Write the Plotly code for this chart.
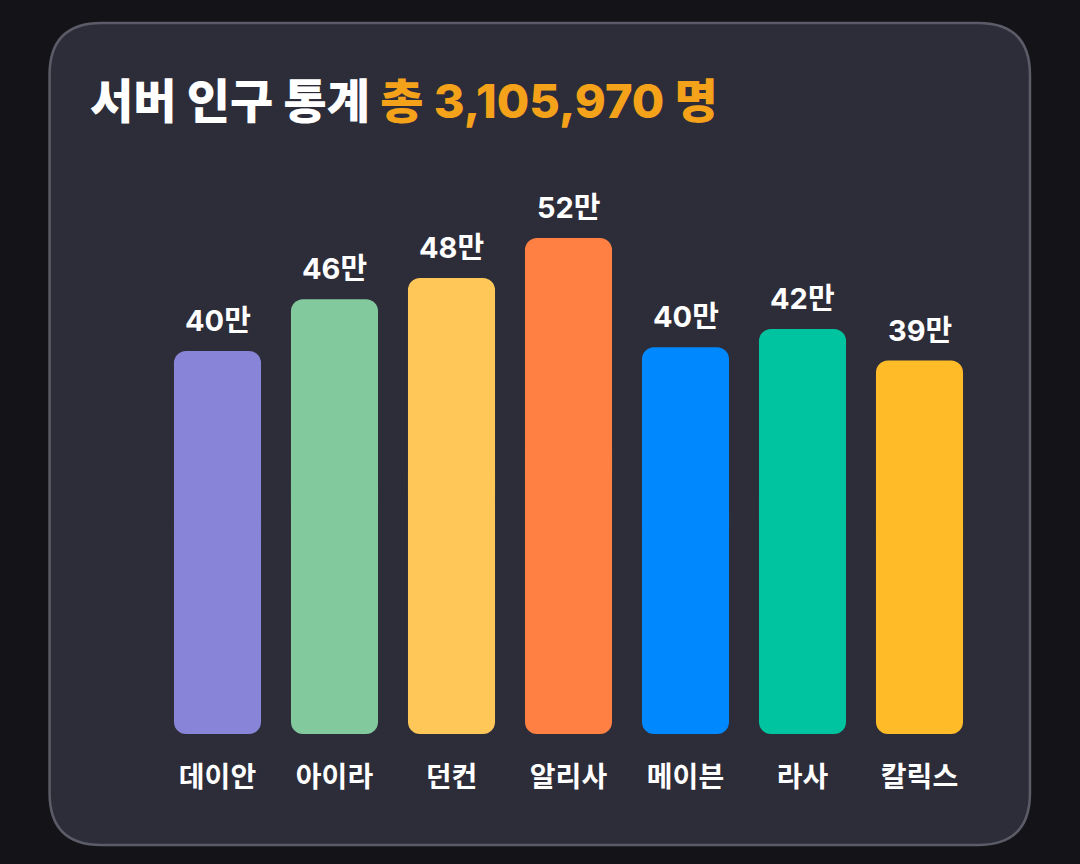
import plotly.graph_objects as go

servers = ["데이안", "아이라", "던컨", "알리사", "메이븐", "라사", "칼릭스"]
population = [405210, 460180, 482640, 524870, 409350, 428590, 395130]
colors = ["#8884d8", "#82ca9d", "#ffc658", "#ff8042", "#0088fe", "#00c49f", "#ffbb28"]

W, H = 1080, 864
ML, MR, MT, MB = 158.5, 102, 150, 130
PW, PH = W - ML - MR, H - MT - MB
total = sum(population)
labels = [f"{v // 10000}만" for v in population]

FONT = "Noto Sans CJK KR"
NUMFONT = "Inter, Noto Sans CJK KR"

fig = go.Figure()
# lower part: rounded bottom corners (bar going from the middle down to 0)
fig.add_trace(go.Bar(
    x=servers, y=[-v * 0.6 for v in population], base=[v * 0.6 for v in population],
    marker=dict(color=colors, cornerradius=12, line=dict(width=0)),
    hoverinfo="skip", showlegend=False,
))
# upper part: rounded top corners
fig.add_trace(go.Bar(
    x=servers, y=[v * 0.5 for v in population], base=[v * 0.5 for v in population],
    marker=dict(color=colors, cornerradius=12, line=dict(width=0)),
    customdata=population, hovertemplate="%{x}: %{customdata:,}<extra></extra>",
    showlegend=False,
))


def P(x, y):
    return f"{(x - ML) / PW:.5f},{(H - MB - y) / PH:.5f}"

# rounded card
x0, y0, x1, y1, r = 49, 23, 1030, 845, 52
path = (f"M {P(x0 + r, y0)} L {P(x1 - r, y0)} Q {P(x1, y0)} {P(x1, y0 + r)} "
        f"L {P(x1, y1 - r)} Q {P(x1, y1)} {P(x1 - r, y1)} "
        f"L {P(x0 + r, y1)} Q {P(x0, y1)} {P(x0, y1 - r)} "
        f"L {P(x0, y0 + r)} Q {P(x0, y0)} {P(x0 + r, y0)} Z")

annotations = [dict(
    x=s, y=v, xref="x", yref="y", yanchor="bottom", yshift=11, showarrow=False,
    text=t, font=dict(family=NUMFONT, size=29, color="#ffffff", weight=700),
) for s, v, t in zip(servers, population, labels)]

annotations.append(dict(
    xref="paper", yref="paper", x=(87 - ML) / PW, y=(H - MB - 101) / PH,
    xanchor="left", yanchor="middle", showarrow=False,
    text=f"서버 인구 통계 <span style='color:#f5a21b'>총 {total:,} 명</span>",
    font=dict(family=NUMFONT, size=47, color="#ffffff", weight=800),
))

fig.update_layout(
    width=W, height=H,
    paper_bgcolor="#141418", plot_bgcolor="rgba(0,0,0,0)",
    margin=dict(l=ML, r=MR, t=MT, b=MB),
    barmode="overlay", bargap=0.256,
    shapes=[dict(type="path", xref="paper", yref="paper", path=path,
                 fillcolor="#2d2d39", line=dict(color="#5c5c68", width=2.5), layer="below")],
    xaxis=dict(showgrid=False, zeroline=False, showline=False,
               ticks="outside", ticklen=18, tickcolor="rgba(0,0,0,0)",
               tickfont=dict(family=FONT, size=28, color="#ffffff", weight=700),
               fixedrange=True),
    yaxis=dict(range=[0, 618000], visible=False, fixedrange=True),
    annotations=annotations,
)

fig.write_html("out.html")
